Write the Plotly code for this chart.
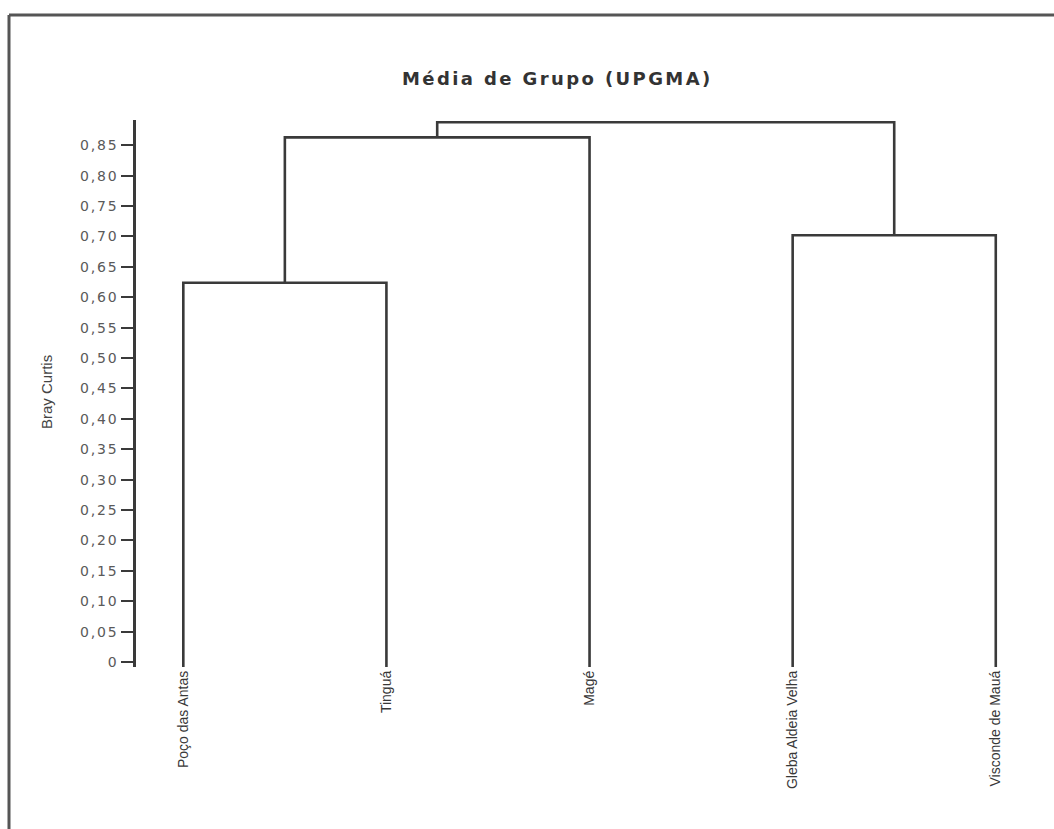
import plotly.graph_objects as go

# Leaves of the dendrogram, left to right
leaves = ["Poço das Antas", "Tinguá", "Magé", "Gleba Aldeia Velha", "Visconde de Mauá"]

# Agglomeration steps: (cluster a, cluster b, Bray-Curtis height).
# Cluster ids 0..4 are the leaves; each merge creates the next id (5, 6, ...).
merge_a = [0, 3, 5, 7]
merge_b = [1, 4, 2, 6]
merge_h = [0.624, 0.702, 0.863, 0.888]

# Y axis ticks
y_tickvals = [0, 0.05, 0.10, 0.15, 0.20, 0.25, 0.30, 0.35, 0.40, 0.45,
              0.50, 0.55, 0.60, 0.65, 0.70, 0.75, 0.80, 0.85]
y_ticktext = ["0", "0,05", "0,10", "0,15", "0,20", "0,25", "0,30", "0,35", "0,40",
              "0,45", "0,50", "0,55", "0,60", "0,65", "0,70", "0,75", "0,80", "0,85"]

title_text = "Média de Grupo (UPGMA)"
y_title = "Bray Curtis"

# ---- layout geometry (pixels) ----
W, H = 1054, 829
ML, MR, MT, MB = 136, 24, 120, 162
LINE = "#3a3a3a"
y_bottom = -0.0082
y_top = 0.8916
x_range = [-0.2329, 4.1685]

# ---- build dendrogram segments ----
pos = {i: float(i) for i in range(len(leaves))}
base = {i: y_bottom for i in range(len(leaves))}
xs, ys = [], []
next_id = len(leaves)
for a, b, h in zip(merge_a, merge_b, merge_h):
    xa, xb = pos[a], pos[b]
    xs += [xa, xa, xb, xb, None]
    ys += [base[a], h, h, base[b], None]
    pos[next_id] = (xa + xb) / 2
    base[next_id] = h
    next_id += 1

fig = go.Figure()
fig.add_trace(go.Scatter(x=xs, y=ys, mode="lines",
                         line=dict(color=LINE, width=2.6),
                         hoverinfo="skip", showlegend=False))

plot_w = W - ML - MR
plot_h = H - MT - MB


def px_x(p):
    return (p - ML) / plot_w


def px_y(p):
    return 1 - (p - MT) / plot_h


def spaced(t, px):
    return '<span style="letter-spacing:%spx">%s</span>' % (px, t)


fig.update_layout(
    width=W, height=H,
    margin=dict(l=ML, r=MR, t=MT, b=MB, pad=0),
    paper_bgcolor="white", plot_bgcolor="white",
    showlegend=False,
    xaxis=dict(
        range=x_range,
        tickvals=list(range(len(leaves))), ticktext=leaves,
        tickangle=-90, ticks="", ticklen=2, showline=False, showgrid=False, zeroline=False,
        tickfont=dict(family="Liberation Sans, Arial, sans-serif", size=14, color="#383838"),
    ),
    yaxis=dict(
        range=[y_bottom, y_top],
        tickvals=y_tickvals, ticktext=[spaced(t, 1.8) for t in y_ticktext],
        ticks="outside", ticklen=12, tickwidth=2, tickcolor=LINE,
        showline=True, linecolor=LINE, linewidth=2.6,
        showgrid=False, zeroline=False,
        tickfont=dict(family="DejaVu Sans, sans-serif", size=14, color="#5a5a5a"),
    ),
    annotations=[
        dict(text="<b>" + spaced(title_text, 2.4) + "</b>", xref="paper", yref="paper",
             x=px_x(557), y=px_y(78), showarrow=False,
             xanchor="center", yanchor="middle",
             font=dict(family="DejaVu Sans, sans-serif", size=18, color="#333")),
        dict(text=y_title, xref="paper", yref="paper",
             x=px_x(46), y=px_y(392), showarrow=False, textangle=-90,
             xanchor="center", yanchor="middle",
             font=dict(family="Liberation Sans, Arial, sans-serif", size=15, color="#444")),
    ],
    shapes=[
        # frame around the figure (left and top edges visible)
        dict(type="line", xref="paper", yref="paper",
             x0=px_x(9), x1=px_x(9), y0=px_y(15), y1=px_y(H + 10),
             line=dict(color="#555", width=3)),
        dict(type="line", xref="paper", yref="paper",
             x0=px_x(9), x1=px_x(W + 10), y0=px_y(15), y1=px_y(15),
             line=dict(color="#555", width=3)),
    ],
)

fig.write_html("out.html")
